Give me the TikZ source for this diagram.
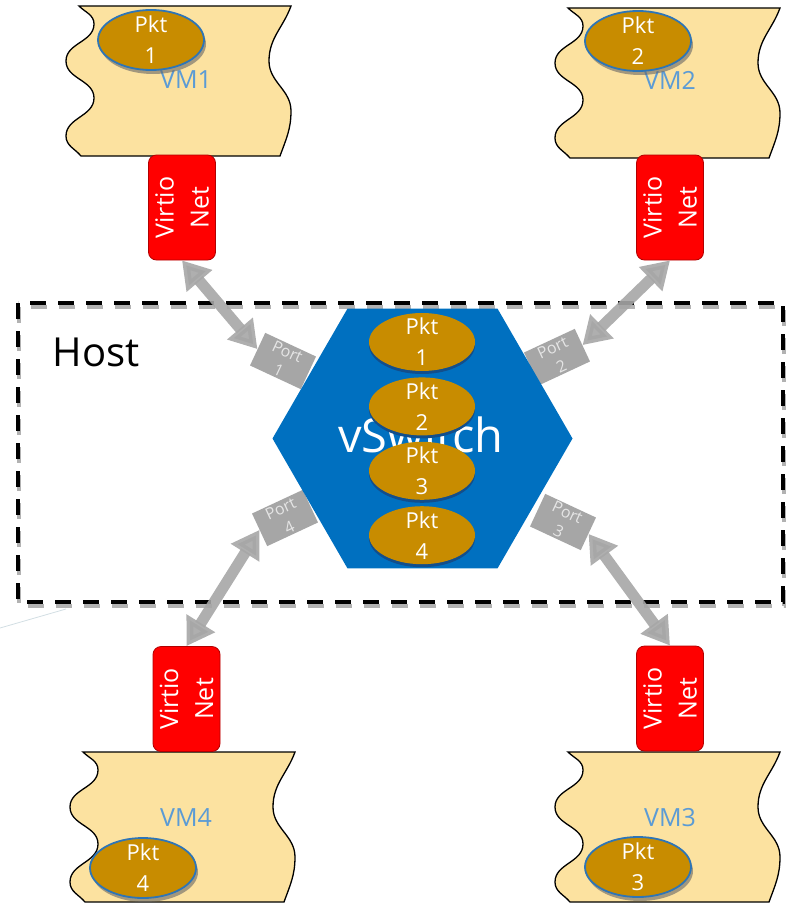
\documentclass[tikz,border=0pt]{standalone}
\usepackage{fontspec}
\setmainfont{Open Sans}
\usepackage{tikz}
\usetikzlibrary{shapes.geometric,arrows.meta,shadows,positioning}
\definecolor{vmfill}{RGB}{252,226,160}
\definecolor{vmtext}{RGB}{91,155,213}
\definecolor{pktfill}{RGB}{200,140,0}
\definecolor{pktline}{RGB}{46,117,182}
\definecolor{hexblue}{RGB}{0,112,192}
\definecolor{hexshade}{RGB}{18,78,140}
\definecolor{portgrey}{RGB}{166,166,166}
\definecolor{virtiored}{RGB}{255,0,0}
\tikzset
{
    vmbox/.style   = {draw=black, line width=1.3pt, fill=vmfill},
    vmlabel/.style = {text=vmtext, font=\fontsize{25}{30}\selectfont},
    pkt/.style     = {ellipse, fill=pktfill, minimum width=106pt, minimum height=60pt, inner sep=0pt, inner ysep=-6pt, align=center, text=white, font=\fontsize{22}{31}\selectfont},
    vmpkt/.style   = {pkt, draw=pktline, line width=1.8pt, drop shadow={shadow xshift=2pt, shadow yshift=-4pt, fill=black!60, opacity=.6}},
    hostpkt/.style = {pkt, minimum height=58pt, drop shadow={shadow xshift=0pt, shadow yshift=-3pt, fill=hexshade, opacity=1}},
    virtio/.style  = {draw=red!70!black, line width=0.8pt, fill=virtiored, rounded corners=8pt, rotate=90, minimum width=105pt, minimum height=67pt, inner sep=0pt, align=center, text=white, font=\fontsize{25}{35}\selectfont},
    port/.style    = {fill=portgrey, minimum width=56pt, minimum height=36pt, inner sep=0pt, align=center, text=white!90!black, font=\fontsize{16}{21}\selectfont},
    link/.style    = {draw=portgrey, opacity=.9, line width=11pt, {Triangle[length=27pt,width=32pt]}-{Triangle[length=27pt,width=32pt]}},
    hostline/.style = {line width=4pt, dash pattern=on 16pt off 12pt}
}

\begin{document}
\begin{tikzpicture}[x=1pt, y=-1pt]
	\useasboundingbox (0,0) rectangle (788,907);
	% the four VMs
	\foreach \vx/\vy in {66/6, 555/8, 555/752, 70/752}
	\draw[vmbox, shift={(\vx,\vy)}] (13,0) -- (225,0)
		to[out=-110,in=90] (203,55) to[out=-90,in=90] (225,105) to[out=-90,in=70] (214,150)
		-- (15,150) to[out=130,in=-90] (0,130) to[out=90,in=-90] (28,92)
		to[out=90,in=-90] (0,55) to[out=90,in=-90] (28,18) to[out=90,in=-45] (13,0) -- cycle;
	\node[vmlabel] (vm1) at (186,80) {VM1};
	\node[vmlabel] (vm2) at (670,80) {VM2};
	\node[vmlabel] (vm3) at (670,818) {VM3};
	\node[vmlabel] (vm4) at (186,818) {VM4};
	\node[vmpkt] (pk1) at (151,40) {Pkt\\1};
	\node[vmpkt] (pk2) at (638,41) {Pkt\\2};
	\node[vmpkt] (pk3) at (638,867) {Pkt\\3};
	\node[vmpkt] (pk4) at (143,868) {Pkt\\4};
	% stray line
	\coordinate (s1) at (0,628);
	\coordinate (s2) at (66,609);
	\draw[cyan!40!black!20, line width=0.8pt] (s1) -- (s2);
	% host
	\draw[hostline, draw=black!30, shift={(1,4)}] (18,303) rectangle (783,602);
	\draw[hostline, draw=black] (18,303) rectangle (783,602);
	\node[font=\fontsize{40}{48}\selectfont] (host) at (96,352) {Host};
	% ports
	\node[port, rotate=-25] (pt1) at (283,361) {Port\\1};
	\node[port, rotate=25] (pt2) at (557,357) {Port\\2};
	\node[port, rotate=-25] (pt3) at (563,522) {Port\\3};
	\node[port, rotate=25] (pt4) at (285,518) {Port\\4};
	% vSwitch
	\coordinate (sw) at (422.5,438.5);
	\fill[hexblue] (sw) +(0:150) -- +(60:150) -- +(120:150) -- +(180:150) -- +(240:150) -- +(300:150) -- cycle;
	\node[text=white, font=\fontsize{47}{56}\selectfont] (swl) at (421,435) {vSwitch};
	\node[hostpkt] (hp1) at (422,342) {Pkt\\1};
	\node[hostpkt, below=6pt of hp1] (hp2) {Pkt\\2};
	\node[hostpkt, below=6pt of hp2] (hp3) {Pkt\\3};
	\node[hostpkt, below=6pt of hp3] (hp4) {Pkt\\4};
	% virtio net
	\node[virtio] (v1) at (182,207.5) {Virtio\\Net};
	\node[virtio] (v2) at (670,207.5) {Virtio\\Net};
	\node[virtio] (v3) at (670,698.5) {Virtio\\Net};
	\node[virtio] (v4) at (186.5,699) {Virtio\\Net};
	% links
	\draw[link] (v1.west) -- (pt1.west);
	\draw[link] (v2.west) -- (pt2.east);
	\draw[link] (pt3.east) -- (v3.east);
	\draw[link] (pt4.west) -- (v4.east);
\end{tikzpicture}
\end{document}
